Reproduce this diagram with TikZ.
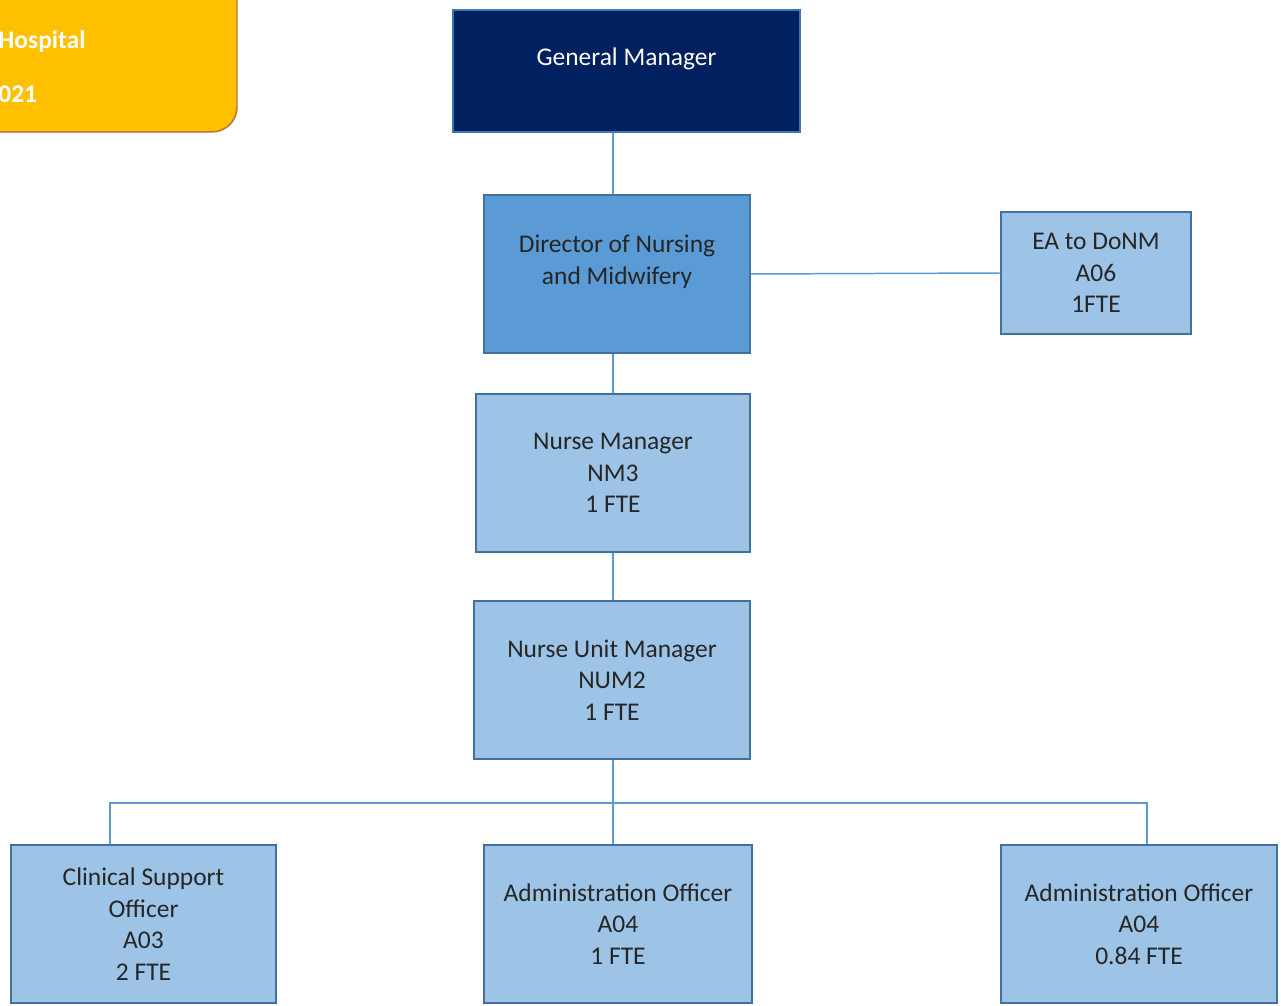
\documentclass[tikz,border=0pt]{standalone}
\usepackage{fontspec}
\setmainfont{Carlito}
\usepackage{tikz}

\definecolor{navy}{HTML}{002060}
\definecolor{midblue}{HTML}{5B9BD5}
\definecolor{paleblue}{HTML}{9DC3E6}
\definecolor{edgeblue}{HTML}{41719C}
\definecolor{gold}{HTML}{FFC000}
\definecolor{goldedge}{HTML}{C0722A}

\tikzset{
    role/.style={draw=edgeblue, line width=0.85pt, fill=paleblue, inner sep=0pt,
        align=center, font=\fontsize{14.5}{17.9}\selectfont, text=black!85},
    link/.style={draw=midblue, line width=0.85pt}
}

\begin{document}
\begin{tikzpicture}[x=0.02cm, y=-0.02cm]
    \clip (0,0) rectangle (1281,1006);

    % banner, cut at the left
    \draw[fill=gold, draw=goldedge, line width=0.85pt, rounded corners=0.5cm]
        (-60,-40) rectangle (237,132);
    \node[anchor=west, inner sep=0pt, text=white, font=\fontsize{14.5}{18}\selectfont\bfseries] (hosp) at (-2,42) {Hospital};
    \node[anchor=west, inner sep=0pt, text=white, font=\fontsize{14.5}{18}\selectfont\bfseries] (year) at (-2,94) {021};

    % boxes
    \node[role, fill=navy, draw=midblue!70!navy, text=white, minimum width=6.94cm, minimum height=2.44cm, text depth=16pt]
        (gm) at (626.5,71) {General Manager};
    \node[role, fill=midblue, minimum width=5.32cm, minimum height=3.16cm, text depth=16pt]
        (donm) at (617,274) {Director of Nursing\\and Midwifery};
    \node[role, minimum width=3.8cm, minimum height=2.44cm] (ea) at (1096,273) {EA to DoNM\\A06\\1FTE};
    \node[role, minimum width=5.48cm, minimum height=3.16cm] (nm) at (613,473) {Nurse Manager\\NM3\\1 FTE};
    \node[role, minimum width=5.52cm, minimum height=3.16cm] (num) at (612,680) {Nurse Unit Manager\\NUM2\\1 FTE};
    \node[role, minimum width=5.3cm, minimum height=3.16cm] (cso) at (143.5,924) {Clinical Support\\Officer\\A03\\2 FTE};
    \node[role, minimum width=5.36cm, minimum height=3.16cm] (ao1) at (618,924) {Administration Officer\\A04\\1 FTE};
    \node[role, minimum width=5.52cm, minimum height=3.16cm] (ao2) at (1139,924) {Administration Officer\\A04\\0.84 FTE};

    % lines
    \coordinate (busl) at (110,803);
    \coordinate (busr) at (1147,803);
    \draw[link] (gm.south -| nm.north) -- (donm.north -| nm.north);
    \draw[link] (donm.east) -- (ea.west);
    \draw[link] (donm.south -| nm.north) -- (nm.north);
    \draw[link] (nm.south) -- (num.north -| nm.south);
    \draw[link] (num.south -| nm.south) -- (ao1.north -| nm.south);
    \draw[link] (cso.north -| busl) -- (busl) -- (busr) -- (ao2.north -| busr);
\end{tikzpicture}
\end{document}
